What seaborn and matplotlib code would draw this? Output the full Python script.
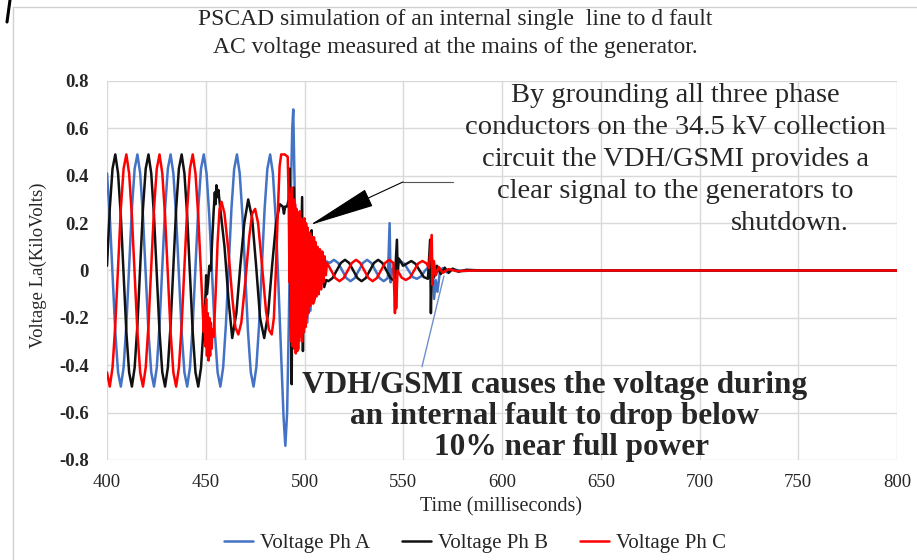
import matplotlib
matplotlib.use("Agg")
import matplotlib.pyplot as plt
import pandas as pd
import seaborn as sns
from matplotlib.lines import Line2D

# ---------------------------------------------------------------------------
# Phase voltages at the generator mains (kV) against time (ms)
# ---------------------------------------------------------------------------
t_a = [400.0, 401.4, 402.8, 404.2, 405.6, 407.0, 408.4, 409.8, 411.2, 412.6, 414.0, 415.4,
       416.8, 418.2, 419.6, 421.0, 422.4, 423.8, 425.2, 426.6, 428.0, 429.4, 430.8, 432.2,
       433.6, 435.0, 436.4, 437.8, 439.2, 440.6, 442.0, 443.4, 444.8, 446.2, 447.6, 449.0,
       450.4, 451.8, 453.2, 454.6, 456.0, 457.4, 458.8, 460.2, 461.6, 463.0, 464.4, 465.8,
       467.2, 468.6, 470.0, 471.4, 472.8, 474.2, 475.6, 477.0, 478.4, 479.8, 481.2, 482.6,
       484.0, 485.4, 486.8, 488.2,
       489.4, 490.3, 491.2, 492.1, 493.0, 493.8, 494.3, 494.9, 495.6, 496.3,
       497.0, 497.7, 498.4, 499.1, 499.8, 500.6, 501.4, 502.2, 503.0, 504.0,
       505.0, 506.0, 507.0, 508.0, 509.2, 510.6,
       512.8, 514.9, 517.0, 519.1, 521.2, 523.3, 525.4, 527.5, 529.6, 531.7,
       533.8, 535.9, 538.0, 540.1, 542.2, 543.1, 543.6, 544.3, 546.4, 548.5,
       550.6, 552.7, 554.8, 556.9, 559.0, 561.1, 563.2, 564.8, 565.6, 566.4,
       567.3, 568.5, 570.0, 572.0, 575.0, 580.0, 588.0, 800.0]
v_a = [0.41, 0.23, -0.02, -0.26, -0.43, -0.49, -0.41, -0.23, 0.02, 0.26, 0.43, 0.49,
       0.41, 0.23, -0.02, -0.26, -0.43, -0.49, -0.41, -0.23, 0.02, 0.26, 0.43, 0.49,
       0.41, 0.23, -0.02, -0.26, -0.43, -0.49, -0.41, -0.23, 0.02, 0.26, 0.43, 0.49,
       0.41, 0.23, -0.02, -0.26, -0.43, -0.49, -0.41, -0.23, 0.02, 0.26, 0.43, 0.49,
       0.41, 0.23, -0.02, -0.26, -0.43, -0.49, -0.41, -0.23, 0.02, 0.26, 0.43, 0.49,
       0.41, 0.22, -0.06, -0.36,
       -0.62, -0.74, -0.60, -0.20, 0.30, 0.60, 0.68, 0.40, 0.00, -0.24,
       -0.33, -0.12, -0.28, -0.10, -0.26, -0.07, -0.22, -0.04, -0.17, -0.02,
       -0.13, 0.02, -0.08, 0.05, -0.03, 0.04,
       0.032, 0.045, 0.032, 0.0, -0.032, -0.045, -0.032, 0.0, 0.032, 0.045,
       0.032, 0.0, -0.032, -0.045, -0.032, 0.20, -0.05, 0.0, 0.03, 0.04,
       0.028, 0.0, -0.028, -0.035, -0.025, 0.0, 0.02, 0.0, -0.12, -0.04,
       -0.09, -0.01, 0.01, -0.008, 0.005, -0.002, 0.0, 0.0]

t_b = [400.0, 401.4, 402.8, 404.2, 405.6, 407.0, 408.4, 409.8, 411.2, 412.6, 414.0, 415.4,
       416.8, 418.2, 419.6, 421.0, 422.4, 423.8, 425.2, 426.6, 428.0, 429.4, 430.8, 432.2,
       433.6, 435.0, 436.4, 437.8, 439.2, 440.6, 442.0, 443.4, 444.8, 446.2, 447.6, 449.0,
       449.8, 450.2, 450.6, 451.2, 451.8, 452.6, 453.2, 454.0, 454.6, 455.0,
       455.4, 455.8, 456.4, 457.5, 459.5, 461.5, 463.4, 465.5, 467.5, 469.5,
       471.5, 473.5, 475.5, 477.5, 479.6, 481.6, 483.6, 485.6, 487.5, 489.0,
       489.6, 490.2, 491.2, 492.0, 492.5, 493.0, 493.5, 494.0, 494.6, 495.2,
       495.8, 496.4, 497.0, 497.6, 498.2, 498.8, 499.2, 499.8, 500.5, 501.2,
       502.0, 502.8, 503.6, 504.0, 505.0, 506.0, 507.0, 508.0, 509.0, 510.0,
       511.0,
       512.1, 514.2, 516.3, 518.4, 520.5, 522.6, 524.7, 526.8, 528.9, 531.0,
       533.1, 535.2, 537.3, 539.4, 541.5, 543.6, 545.7, 546.8, 547.2, 547.8,
       549.9, 552.0, 554.1, 556.2, 558.3, 560.4, 562.5, 563.6, 564.0, 564.5,
       565.5, 567.0, 569.0, 571.0, 573.0, 575.0, 578.0, 582.0, 590.0, 800.0]
v_b = [0.02, 0.26, 0.43, 0.49, 0.41, 0.23, -0.02, -0.26, -0.43, -0.49, -0.41, -0.23,
       0.02, 0.26, 0.43, 0.49, 0.41, 0.23, -0.02, -0.26, -0.43, -0.49, -0.41, -0.23,
       0.02, 0.26, 0.43, 0.49, 0.41, 0.23, -0.02, -0.26, -0.43, -0.49, -0.41, -0.23,
       -0.12, -0.02, -0.10, -0.05, 0.02, 0.00, 0.12, 0.25, 0.33, 0.28,
       0.36, 0.31, 0.34, 0.25, 0.10, -0.12, -0.285, -0.18, 0.02, 0.20,
       0.30, 0.22, 0.02, -0.20, -0.285, -0.18, 0.02, 0.20, 0.28, 0.27,
       0.24, 0.27, 0.27, 0.30, 0.43, -0.10, -0.48, 0.10, 0.35, -0.20,
       0.10, -0.30, 0.15, -0.20, 0.05, 0.31, -0.34, 0.10, -0.15, 0.08,
       -0.10, 0.05, 0.17, -0.05, 0.04, -0.08, 0.03, -0.07, -0.02, -0.07,
       -0.04,
       -0.045, -0.032, 0.0, 0.032, 0.045, 0.032, 0.0, -0.032, -0.045, -0.032,
       0.0, 0.032, 0.045, 0.032, 0.0, -0.032, -0.045, 0.13, -0.01, 0.05,
       0.02, 0.03, 0.04, 0.028, 0.0, -0.028, -0.035, 0.13, -0.18, 0.05,
       -0.03, 0.02, -0.015, 0.012, -0.01, 0.008, -0.005, 0.003, 0.0, 0.0]

t_c = [400.0, 401.4, 402.8, 404.2, 405.6, 407.0, 408.4, 409.8, 411.2, 412.6, 414.0, 415.4,
       416.8, 418.2, 419.6, 421.0, 422.4, 423.8, 425.2, 426.6, 428.0, 429.4, 430.8, 432.2,
       433.6, 435.0, 436.4, 437.8, 439.2, 440.6, 442.0, 443.4, 444.8, 446.2, 447.6, 449.0,
       449.4, 449.8, 450.2, 450.6, 451.0, 451.4, 451.8, 452.2, 452.6, 453.0,
       453.4, 454.0, 455.0, 456.0, 457.0, 458.0, 459.5, 461.5, 463.5, 465.0,
       466.5, 468.0, 470.0, 472.0, 473.5, 475.0, 476.5, 478.5, 480.5, 482.0,
       483.4, 484.5, 485.5, 486.5, 487.4, 488.2, 490.0, 491.5, 492.0, 492.4,
       492.8, 493.2, 493.6, 494.0, 494.4, 494.8, 495.2, 495.6, 496.0, 496.4,
       496.8, 497.2, 497.6, 498.0, 498.4, 498.8, 499.2, 499.6, 500.0, 500.4,
       500.8, 501.2, 501.6, 502.0, 502.4, 502.8, 503.2, 503.6, 504.0, 504.4,
       504.8, 505.2, 505.6, 506.0, 506.6, 507.2, 507.8, 508.4, 509.0, 509.6,
       510.2, 510.8,
       511.4, 513.5, 515.6, 517.7, 519.8, 521.9, 524.0, 526.1, 528.2, 530.3,
       532.4, 534.5, 536.6, 538.7, 540.8, 542.9, 545.0, 545.8, 546.1, 546.4,
       547.1, 549.2, 551.3, 553.4, 555.5, 557.6, 559.7, 561.8, 563.0, 564.4,
       564.8, 565.5, 566.5, 568.0, 570.0, 573.0, 577.0, 585.0, 800.0]
v_c = [-0.43, -0.49, -0.41, -0.23, 0.02, 0.26, 0.43, 0.49, 0.41, 0.23, -0.02, -0.26,
       -0.43, -0.49, -0.41, -0.23, 0.02, 0.26, 0.43, 0.49, 0.41, 0.23, -0.02, -0.26,
       -0.43, -0.49, -0.41, -0.23, 0.02, 0.26, 0.43, 0.49, 0.41, 0.23, -0.02, -0.26,
       -0.15, -0.32, -0.12, -0.36, -0.18, -0.38, -0.20, -0.36, -0.22, -0.33,
       -0.25, -0.28, -0.10, 0.12, 0.26, 0.29, 0.24, 0.08, -0.12, -0.24,
       -0.27, -0.22, -0.05, 0.14, 0.24, 0.26, 0.20, 0.02, -0.17, -0.25,
       -0.27, -0.20, 0.00, 0.25, 0.44, 0.49, 0.49, 0.48, 0.30, -0.05,
       0.32, -0.30, 0.35, -0.32, 0.30, -0.33, 0.28, -0.35, 0.26, -0.34,
       0.24, -0.30, 0.25, -0.28, 0.22, -0.30, 0.20, -0.26, 0.22, -0.24,
       0.20, -0.20, 0.18, -0.18, 0.16, -0.15, 0.15, -0.13, 0.14, -0.14,
       0.14, -0.12, 0.12, -0.11, 0.10, -0.10, 0.09, -0.08, 0.08, -0.05,
       0.06, -0.02,
       0.032, 0.0, -0.032, -0.045, -0.032, 0.0, 0.032, 0.045, 0.032, 0.0,
       -0.032, -0.045, -0.032, 0.0, 0.032, 0.045, 0.032, -0.18, -0.04, -0.16,
       0.0, -0.03, -0.04, -0.03, 0.0, 0.03, 0.04, 0.03, 0.01, 0.15,
       -0.06, 0.04, -0.02, 0.015, -0.01, 0.006, -0.003, 0.0, 0.0]

phase_names = ["Voltage Ph A", "Voltage Ph B", "Voltage Ph C"]
phase_colors = ["#4472C4", "#111111", "#FF0000"]

x_ticks = [400, 450, 500, 550, 600, 650, 700, 750, 800]
y_ticks = [-0.8, -0.6, -0.4, -0.2, 0.0, 0.2, 0.4, 0.6, 0.8]
y_tick_labels = ["-0.8", "-0.6", "-0.4", "-0.2", "0", "0.2", "0.4", "0.6", "0.8"]

title_lines = ["PSCAD simulation of an internal single  line to d fault",
               "AC voltage measured at the mains of the generator."]
note_top = ["By grounding all three phase",
            "conductors on the 34.5 kV collection",
            "circuit the VDH/GSMI provides a",
            "clear signal to the generators to"]
note_top_last = "shutdown."
note_bottom = ["VDH/GSMI causes the voltage during",
               "an internal fault to drop below",
               "10% near full power"]

# ---------------------------------------------------------------------------
frames = []
for name, t, v in zip(phase_names, [t_a, t_b, t_c], [v_a, v_b, v_c]):
    frames.append(pd.DataFrame({"time": t, "voltage": v, "phase": name}))
df = pd.concat(frames, ignore_index=True)

sns.set_theme(style="white")
serif = "Liberation Serif"
plt.rcParams["font.family"] = [serif, "DejaVu Serif"]

fig = plt.figure(figsize=(9.17, 5.60), dpi=100)
ax = fig.add_axes([107 / 917, 1 - 460 / 560, 790 / 917, 379 / 560])

sns.lineplot(data=df, x="time", y="voltage", hue="phase", hue_order=phase_names,
             palette=phase_colors, estimator=None, sort=False, linewidth=1.8,
             legend=False, ax=ax)

ax.set_xlim(400, 800)
ax.set_ylim(-0.8, 0.8)
ax.set_xticks(x_ticks)
ax.set_xticklabels([str(x) for x in x_ticks], fontsize=13.5)
ax.set_yticks(y_ticks)
ax.set_yticklabels(y_tick_labels, fontsize=13.5, fontweight="bold")
ax.tick_params(axis="both", length=0)
ax.tick_params(axis="x", pad=10)
ax.tick_params(axis="y", pad=13)
ax.grid(True, color="#d9d9d9", linewidth=1.0)
ax.set_axisbelow(True)
for s in ax.spines.values():
    s.set_visible(False)
ax.set_xlabel("")
ax.set_ylabel("")

# axis titles
fig.text(38 / 917, 1 - 265 / 560, "Voltage La(KiloVolts)", rotation=90,
         ha="center", va="center", fontsize=13.5)
fig.text(501 / 917, 1 - 507 / 560, "Time (milliseconds)", ha="center", va="center",
         fontsize=14.5)

# chart title
fig.text(455 / 917, 1 - 20 / 560, title_lines[0], ha="center", va="center", fontsize=17)
fig.text(455 / 917, 1 - 47 / 560, title_lines[1], ha="center", va="center", fontsize=17)

# callout text
for i, line in enumerate(note_top):
    fig.text(675 / 917, 1 - (95 + 32.3 * i) / 560, line, ha="center", va="center",
             fontsize=20.5)
fig.text(790 / 917, 1 - 224 / 560, note_top_last, ha="center", va="center", fontsize=20.5)

bottom_centers = [555, 555, 571]
for i, line in enumerate(note_bottom):
    fig.text(bottom_centers[i] / 917, 1 - (385 + 31.5 * i) / 560, line, ha="center",
             va="center", fontsize=22.5, fontweight="bold")

# arrow pointing at the disturbance
ax.plot([575.2, 549.9], [0.374, 0.374], color="#555555", linewidth=0.8)
ax.annotate("", xy=(502.8, 0.192), xytext=(549.9, 0.374),
            arrowprops=dict(arrowstyle="-|>,head_length=3.6,head_width=0.5",
                            color="black", linewidth=0.8, shrinkA=0, shrinkB=0))
# leader line from the lower callout
ax.plot([570.6, 559.5], [-0.023, -0.406], color="#7090c8", linewidth=1.0)

# legend
handles = [Line2D([0], [0], color=c, linewidth=1.8) for c in phase_colors]
fig.legend(handles, phase_names, loc="center", bbox_to_anchor=(475 / 917, 1 - 543 / 560),
           ncol=3, frameon=False, fontsize=15, handlelength=1.4, handletextpad=0.35,
           columnspacing=1.5)

# outer chart border and page mark
fig.add_artist(Line2D([13 / 917, 13 / 917], [0, 1 - 7 / 560], color="#d0d0d0",
                      linewidth=1.0, transform=fig.transFigure))
fig.add_artist(Line2D([13 / 917, 1], [1 - 7 / 560, 1 - 7 / 560], color="#d0d0d0",
                      linewidth=1.0, transform=fig.transFigure))
fig.add_artist(Line2D([10 / 917, 7 / 917], [1, 1 - 22 / 560], color="black",
                      linewidth=2.2, transform=fig.transFigure))

fig.savefig("out.png", dpi=100)
